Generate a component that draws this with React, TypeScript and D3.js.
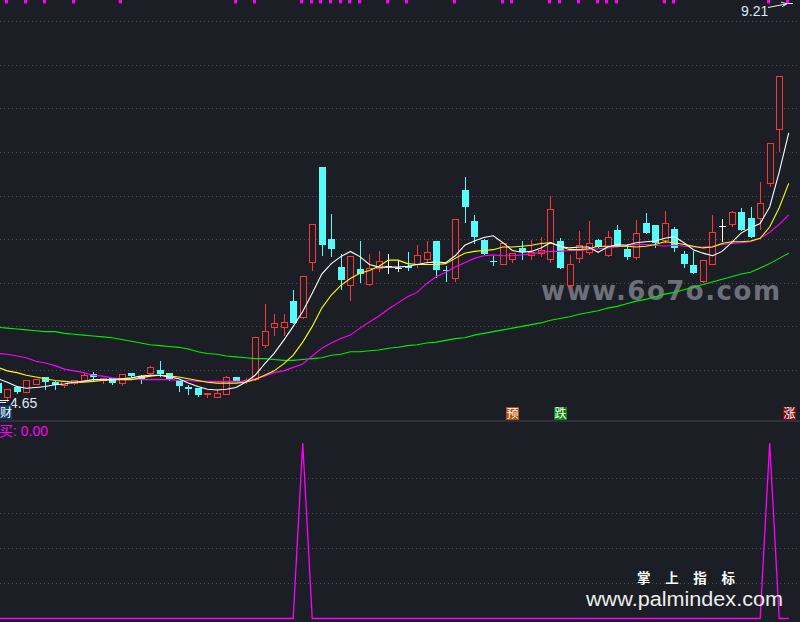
import React from 'react';
import * as d3 from 'd3';

const W = 800;
const H = 622;

// bar indices (bar -1 is partially cut off at the left edge)
const bars: number[] = d3.range(-1, 83);

const open = [4.85,
  4.69, 4.81, 4.75, 4.84, 4.92, 4.86, 4.83, 4.85, 4.89, 4.95,
  4.89, 4.91, 4.85, 4.96, 4.93, 4.96, 5.00, 4.96, 4.88, 4.80,
  4.79, 4.72, 4.69, 4.72, 4.92, 4.87, 4.90, 5.29, 5.49, 5.49,
  5.79, 5.61, 6.24, 7.33, 6.50, 6.18, 5.97, 6.16, 5.99, 6.17,
  6.19, 6.17, 6.19, 6.22, 6.27, 6.48, 6.15, 6.06, 7.06, 6.71,
  6.49, 6.25, 6.21, 6.27, 6.40, 6.32, 6.34, 6.27, 6.48, 5.97,
  6.29, 6.35, 6.49, 6.32, 6.61, 6.39, 6.30, 6.69, 6.66, 6.49,
  6.62, 6.33, 6.20, 6.02, 6.22, 6.65, 6.67, 6.81, 6.74, 6.74,
  7.14, 7.76, 9.21];
const high = [4.86,
  4.78, 4.83, 4.89, 4.91, 4.92, 4.88, 4.89, 4.90, 4.97, 4.99,
  4.92, 4.91, 4.97, 4.98, 4.95, 5.06, 5.11, 4.96, 4.88, 4.84,
  4.79, 4.74, 4.79, 4.94, 4.92, 4.92, 5.38, 5.77, 5.65, 5.65,
  5.93, 6.08, 6.68, 7.33, 6.80, 6.34, 6.31, 6.49, 6.34, 6.38,
  6.34, 6.26, 6.37, 6.45, 6.49, 6.49, 6.20, 6.73, 7.22, 6.79,
  6.51, 6.32, 6.46, 6.34, 6.49, 6.50, 6.54, 7.01, 6.52, 6.33,
  6.61, 6.72, 6.51, 6.61, 6.67, 6.46, 6.73, 6.81, 6.68, 6.83,
  6.65, 6.38, 6.38, 6.27, 6.79, 6.74, 6.83, 6.87, 6.88, 7.17,
  7.60, 8.37, 9.21];
const low = [4.72,
  4.65, 4.74, 4.75, 4.84, 4.78, 4.78, 4.81, 4.84, 4.89, 4.89,
  4.85, 4.84, 4.83, 4.92, 4.85, 4.93, 4.93, 4.89, 4.76, 4.72,
  4.70, 4.69, 4.69, 4.72, 4.87, 4.85, 4.89, 5.26, 5.40, 5.40,
  5.54, 5.60, 6.15, 6.32, 6.31, 5.93, 5.80, 6.01, 5.97, 6.13,
  6.11, 6.13, 6.15, 6.18, 6.24, 6.07, 6.02, 6.02, 6.70, 6.46,
  6.33, 6.20, 6.21, 6.24, 6.27, 6.27, 6.31, 6.24, 6.17, 5.92,
  6.24, 6.33, 6.41, 6.31, 6.42, 6.27, 6.27, 6.57, 6.41, 6.47,
  6.36, 6.18, 6.11, 6.01, 6.22, 6.48, 6.65, 6.60, 6.53, 6.62,
  7.11, 7.51, 9.21];
const close = [4.74,
  4.78, 4.75, 4.89, 4.90, 4.86, 4.83, 4.87, 4.89, 4.94, 4.92,
  4.91, 4.85, 4.95, 4.93, 4.89, 5.03, 4.95, 4.90, 4.82, 4.78,
  4.71, 4.74, 4.74, 4.92, 4.87, 4.89, 5.38, 5.45, 5.54, 5.55,
  5.54, 6.08, 6.68, 6.43, 6.39, 6.03, 6.31, 6.10, 6.17, 6.25,
  6.19, 6.17, 6.17, 6.32, 6.35, 6.15, 6.14, 6.73, 6.87, 6.52,
  6.33, 6.24, 6.46, 6.34, 6.35, 6.35, 6.38, 6.85, 6.17, 6.21,
  6.43, 6.46, 6.41, 6.52, 6.42, 6.30, 6.57, 6.57, 6.46, 6.69,
  6.40, 6.21, 6.11, 6.26, 6.58, 6.65, 6.81, 6.60, 6.53, 6.91,
  7.60, 8.37, 9.21];

const ma5 = [4.90,
  4.86, 4.81, 4.79, 4.80, 4.81, 4.83, 4.84, 4.86, 4.87, 4.89,
  4.89, 4.89, 4.90, 4.91, 4.93, 4.94, 4.94, 4.92, 4.90, 4.85,
  4.81, 4.78, 4.77, 4.78, 4.80, 4.86, 4.94, 5.07, 5.19, 5.34,
  5.50, 5.67, 5.88, 6.10, 6.22, 6.30, 6.36, 6.30, 6.21, 6.18,
  6.18, 6.18, 6.19, 6.21, 6.23, 6.24, 6.23, 6.31, 6.43, 6.48,
  6.52, 6.54, 6.46, 6.37, 6.35, 6.36, 6.40, 6.46, 6.42, 6.40,
  6.41, 6.41, 6.35, 6.41, 6.44, 6.43, 6.46, 6.47, 6.48, 6.51,
  6.53, 6.46, 6.38, 6.34, 6.31, 6.36, 6.46, 6.57, 6.63, 6.68,
  6.87, 7.27, 7.72];
const ma10 = [5.03,
  4.99, 4.97, 4.94, 4.92, 4.90, 4.88, 4.87, 4.86, 4.86, 4.87,
  4.88, 4.89, 4.89, 4.89, 4.91, 4.93, 4.94, 4.93, 4.92, 4.90,
  4.88, 4.86, 4.85, 4.85, 4.85, 4.86, 4.89, 4.94, 4.99, 5.07,
  5.17, 5.32, 5.50, 5.71, 5.86, 5.97, 6.05, 6.11, 6.14, 6.19,
  6.26, 6.26, 6.22, 6.21, 6.21, 6.21, 6.22, 6.28, 6.34, 6.36,
  6.37, 6.38, 6.41, 6.41, 6.42, 6.43, 6.45, 6.46, 6.42, 6.38,
  6.38, 6.39, 6.42, 6.42, 6.42, 6.42, 6.41, 6.42, 6.44, 6.47,
  6.46, 6.44, 6.42, 6.40, 6.41, 6.45, 6.47, 6.47, 6.48, 6.51,
  6.64, 6.86, 7.14];
const ma20 = [5.19,
  5.18, 5.16, 5.14, 5.10, 5.08, 5.05, 5.01, 4.99, 4.97, 4.94,
  4.93, 4.91, 4.90, 4.90, 4.89, 4.89, 4.89, 4.89, 4.88, 4.88,
  4.87, 4.87, 4.87, 4.87, 4.87, 4.87, 4.90, 4.93, 4.97, 4.99,
  5.03, 5.07, 5.16, 5.25, 5.31, 5.36, 5.40, 5.48, 5.55, 5.62,
  5.70, 5.77, 5.84, 5.89, 5.99, 6.07, 6.12, 6.18, 6.23, 6.28,
  6.31, 6.32, 6.31, 6.31, 6.32, 6.33, 6.35, 6.36, 6.36, 6.37,
  6.37, 6.38, 6.39, 6.40, 6.41, 6.43, 6.44, 6.44, 6.43, 6.42,
  6.43, 6.42, 6.41, 6.41, 6.42, 6.44, 6.45, 6.46, 6.47, 6.51,
  6.58, 6.67, 6.78];
const ma60 = [5.49,
  5.48, 5.47, 5.46, 5.45, 5.44, 5.44, 5.42, 5.41, 5.40, 5.39,
  5.38, 5.37, 5.35, 5.33, 5.31, 5.29, 5.28, 5.27, 5.26, 5.24,
  5.21, 5.19, 5.18, 5.16, 5.15, 5.14, 5.13, 5.13, 5.12, 5.11,
  5.11, 5.12, 5.13, 5.14, 5.17, 5.18, 5.21, 5.21, 5.22, 5.23,
  5.25, 5.26, 5.28, 5.29, 5.31, 5.32, 5.34, 5.36, 5.37, 5.40,
  5.42, 5.44, 5.46, 5.48, 5.50, 5.52, 5.54, 5.57, 5.59, 5.61,
  5.64, 5.66, 5.68, 5.71, 5.73, 5.76, 5.79, 5.81, 5.84, 5.87,
  5.89, 5.92, 5.95, 5.98, 6.01, 6.04, 6.07, 6.10, 6.12, 6.17,
  6.22, 6.28, 6.34];

// lower panel "买" signal: bars where the signal fires (value 1, else 0)
const buyBars = [31, 80];
// small magenta marks along the top edge
const topMarkBars = [0, 2, 4, 7, 12, 24, 26, 31, 32, 33, 34, 35, 36, 37, 40, 42, 47, 52, 53, 57, 58, 60, 62, 63, 64, 69, 70, 80, 82];
// tagged bars
const tagBars = [53, 58, 82];
const tagTexts = ['预', '跌', '涨'];
const tagColors = ['#b94a0c', '#0a850a', '#7d0a0a'];

const priceTicks = [5.0, 5.5, 6.0, 6.5, 7.0, 7.5, 8.0, 8.5, 9.0];
const signalTicks = [0.2, 0.4, 0.6, 0.8];
const lowLabel = '4.65';
const highLabel = '9.21';

const BG = '#1b1e25';
const RED = '#ff3434';
const CYAN = '#54fcfc';
const GRID = '#4a4f5b';
const SANS = '"Liberation Sans", Arial, sans-serif';
const CJK = '"Noto Sans CJK SC", sans-serif';

export default function App() {
  const x = d3.scaleLinear().domain([0, 81]).range([7.3, 779.2]);
  const y = d3.scaleLinear().domain([5, 9]).range([370, 21.2]);
  const yS = d3.scaleLinear().domain([0, 1]).range([618.5, 443]);

  const lineGen = (vals: number[]) =>
    d3.line<number>().x((_, k) => x(bars[k])).y((v) => y(v))(vals) || '';

  const signal = bars.map((b) => (buyBars.includes(b) ? 1 : 0));
  const sigPath =
    d3.line<number>().x((_, k) => x(bars[k])).y((v) => yS(v))(signal) || '';

  const candles = bars.map((b, k) => {
    const o = open[k], h = high[k], l = low[k], c = close[k];
    const cx = Math.round(x(b)) + 0.5;
    const yo = Math.round(y(o)) + 0.5;
    const yc = Math.round(y(c)) + 0.5;
    const yh = Math.round(y(h)) + 0.5;
    const yl = Math.round(y(l)) + 0.5;
    if (c > o) {
      return (
        <g key={b}>
          {yh < yc && <line x1={cx} x2={cx} y1={yh} y2={yc} stroke={RED} />}
          {yl > yo && <line x1={cx} x2={cx} y1={yo} y2={yl} stroke={RED} />}
          <rect x={cx - 3} y={yc} width={6} height={Math.max(yo - yc, 1)} fill={BG} stroke={RED} />
        </g>
      );
    }
    if (c < o) {
      return (
        <g key={b}>
          <line x1={cx} x2={cx} y1={yh} y2={yl} stroke={CYAN} />
          <rect x={cx - 3.5} y={yo - 0.5} width={7} height={Math.max(yc - yo, 1)} fill={CYAN} />
        </g>
      );
    }
    return (
      <g key={b}>
        <line x1={cx} x2={cx} y1={yh} y2={yl} stroke="#ffffff" />
        <line x1={cx - 3.5} x2={cx + 3.5} y1={yo} y2={yo} stroke="#ffffff" />
      </g>
    );
  });

  return (
    <div style={{ position: 'absolute', left: 0, top: 0, width: W, height: H }}>
      <svg width={W} height={H} style={{ display: 'block', background: BG }}>
        <defs>
          <clipPath id="mainClip">
            <rect x={0} y={0} width={W} height={420} />
          </clipPath>
        </defs>
        <rect x={0} y={0} width={W} height={H} fill={BG} />

        {/* grid main */}
        {priceTicks.map((p) => (
          <line key={p} x1={0} x2={W} y1={Math.round(y(p)) + 0.5} y2={Math.round(y(p)) + 0.5}
            stroke={GRID} strokeDasharray="1 3" />
        ))}
        {/* grid lower */}
        {signalTicks.map((t) => (
          <line key={t} x1={0} x2={W} y1={Math.round(yS(t)) + 0.5} y2={Math.round(yS(t)) + 0.5}
            stroke={GRID} strokeDasharray="1 3" />
        ))}

        {/* watermark 6o7o */}
        <text x={541} y={300} fontFamily='"DejaVu Sans", sans-serif' fontWeight="bold" fontSize={26}
          fill="#6d7079" textLength={239} lengthAdjust="spacing">www.6o7o.com</text>

        <g clipPath="url(#mainClip)">
          <g shapeRendering="crispEdges">{candles}</g>
          <path d={lineGen(ma60)} fill="none" stroke="#00ee00" strokeWidth={1.1} />
          <path d={lineGen(ma20)} fill="none" stroke="#ff00ff" strokeWidth={1.1} />
          <path d={lineGen(ma10)} fill="none" stroke="#ffff00" strokeWidth={1.1} />
          <path d={lineGen(ma5)} fill="none" stroke="#ffffff" strokeWidth={1.1} />
        </g>

        {/* top marks */}
        {topMarkBars.map((b) => (
          <rect key={b} x={Math.round(x(b) - 2.3)} y={0} width={3} height={3.4} fill="#ff00ff" />
        ))}

        {/* high label */}
        <text x={741} y={15.5} fontFamily={SANS} fontSize={14} fill="#dfe8f3">{highLabel}</text>
        <path d="M768,7.5 L786,4" stroke="#e8eef5" fill="none" />
        <path d="M781,2.2 L787,3.8 L782,6.8" stroke="#e8eef5" fill="none" />

        {/* low label */}
        <path d="M0,400.5 H9 M0,402.5 H6" stroke="#e8eef5" fill="none" />
        <text x={10} y={407.5} fontFamily={SANS} fontSize={14} fill="#dfe8f3">{lowLabel}</text>

        {/* 财 tag */}
        <rect x={0} y={405} width={12} height={14} fill="#0d3b68" />
        <text x={0} y={417} fontFamily={CJK} fontSize={12} fill="#ffffff">财</text>

        {/* tags 预 跌 涨 */}
        {tagBars.map((b, k) => {
          const cx = Math.round(x(b)) + 0.5;
          return (
            <g key={b}>
              <rect x={cx - 6.5} y={407} width={13} height={13} fill={tagColors[k]} />
              <text x={cx} y={418} textAnchor="middle" fontFamily={CJK} fontSize={12} fill="#ffffff">{tagTexts[k]}</text>
            </g>
          );
        })}

        {/* separator */}
        <line x1={0} x2={W} y1={421} y2={421} stroke="#3e4554" strokeWidth={1.2} />

        {/* lower panel */}
        <text x={-1} y={435.5} fontSize={14} fill="#ff00ff">
          <tspan fontFamily={CJK}>买</tspan>
          <tspan fontFamily={SANS}>: 0.00</tspan>
        </text>
        <path d={sigPath} fill="none" stroke="#ff00ff" strokeWidth={1.3} />

        {/* bottom watermark */}
        <text x={637} y={583} fontFamily={CJK} fontWeight="bold" fontSize={13.5} fill="#ffffff"
          textLength={98} lengthAdjust="spacing">掌上指标</text>
        <text x={586} y={605.5} fontFamily={SANS} fontSize={20.5} fill="#eeeeee"
          textLength={197} lengthAdjust="spacingAndGlyphs">www.palmindex.com</text>
      </svg>
    </div>
  );
}
